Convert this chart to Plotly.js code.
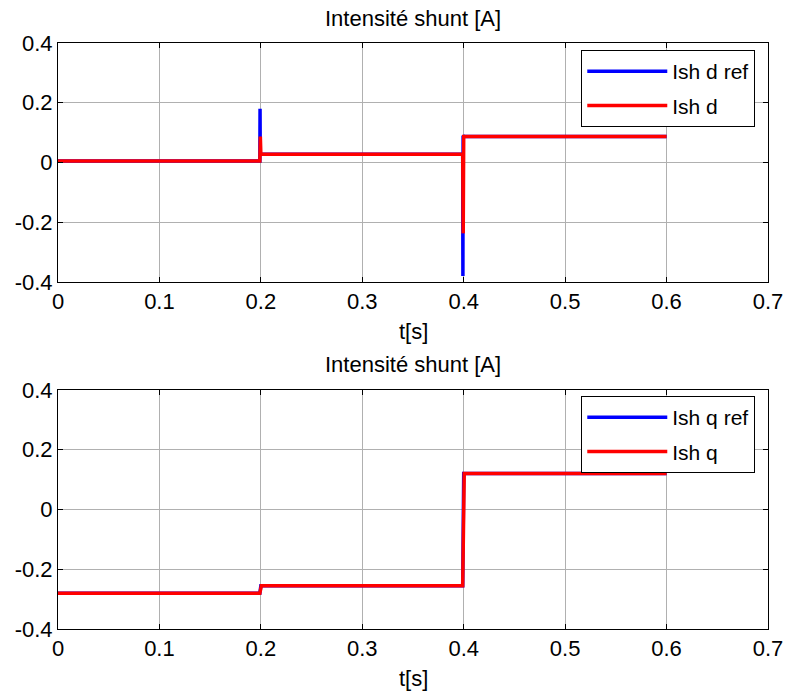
<!DOCTYPE html>
<html>
<head>
<meta charset="utf-8">
<script src="https://cdn.plot.ly/plotly-3.0.1.min.js"></script>
<style>html,body{margin:0;padding:0;background:#fff;}#chart{width:787px;height:695px;}</style>
</head>
<body>
<div id="chart"></div>
<script>
// Top panel: d components
var t_dref = [0, 0.1990, 0.1992, 0.1994, 0.2005, 0.3990, 0.3992, 0.3994, 0.4005, 0.6];
var y_dref = [0.005, 0.005, 0.18, 0.028, 0.028, 0.028, -0.38, 0.09, 0.087, 0.087];
var t_d = [0, 0.1990, 0.1995, 0.2000, 0.2010, 0.3990, 0.3995, 0.4000, 0.4010, 0.6];
var y_d = [0.005, 0.005, 0.087, 0.028, 0.028, 0.028, -0.237, 0.087, 0.087, 0.087];
// Bottom panel: q components
var t_qref = [0, 0.1990, 0.2000, 0.3990, 0.4000, 0.6];
var y_qref = [-0.28, -0.28, -0.255, -0.255, 0.12, 0.12];
var t_q = [0, 0.1990, 0.2005, 0.3990, 0.4005, 0.6];
var y_q = [-0.28, -0.28, -0.255, -0.255, 0.12, 0.12];

var panelTitle = 'Intensité shunt [A]';
var xLabel = 't[s]';
var xTicks = [0, 0.1, 0.2, 0.3, 0.4, 0.5, 0.6, 0.7];
var yTicks = [-0.4, -0.2, 0, 0.2, 0.4];
var yTickText = ['-0.4', '-0.2', '0', '0.2', '0.4'];

var blue = '#0000ff', red = '#ff0000';
var traces = [
  {x: t_dref, y: y_dref, name: 'Ish d ref', legendgroup: 'a', mode: 'lines', line: {color: blue, width: 3.5}, xaxis: 'x', yaxis: 'y', legend: 'legend'},
  {x: t_d, y: y_d, name: 'Ish d', legendgroup: 'b', mode: 'lines', line: {color: red, width: 3.5}, xaxis: 'x', yaxis: 'y', legend: 'legend'},
  {x: t_qref, y: y_qref, name: 'Ish q ref', legendgroup: 'c', mode: 'lines', line: {color: blue, width: 3.5}, xaxis: 'x2', yaxis: 'y2', legend: 'legend2'},
  {x: t_q, y: y_q, name: 'Ish q', legendgroup: 'd', mode: 'lines', line: {color: red, width: 3.5}, xaxis: 'x2', yaxis: 'y2', legend: 'legend2'}
];

var FS = 22;
var fontFam = 'Liberation Sans, Arial, sans-serif';
function xax(anchor) {
  return {range: [0, 0.7], tickvals: xTicks, ticktext: xTicks.map(String), showline: true, mirror: 'ticks',
    linecolor: '#000', linewidth: 1, ticks: 'inside', ticklen: 5, tickcolor: '#000',
    showgrid: true, gridcolor: '#b0b0b0', gridwidth: 1, zeroline: false, anchor: anchor,
    tickfont: {size: FS, color: '#000'}};
}
function yax(domain, anchor) {
  return {range: [-0.4, 0.4], domain: domain, tickvals: yTicks, ticktext: yTickText, showline: true, mirror: 'ticks',
    linecolor: '#000', linewidth: 1, ticks: 'inside', ticklen: 5, tickcolor: '#000',
    showgrid: true, gridcolor: '#b0b0b0', gridwidth: 1, zeroline: false, anchor: anchor,
    tickfont: {size: FS, color: '#000'}};
}
var legendBase = {xanchor: 'left', yanchor: 'top', bgcolor: '#fff', bordercolor: '#000', borderwidth: 1,
  font: {size: 21}, tracegroupgap: 4, itemwidth: 80};
var layout = {
  width: 787, height: 695,
  margin: {l: 58, r: 19, t: 43, b: 66},
  paper_bgcolor: '#fff', plot_bgcolor: '#fff',
  font: {family: fontFam, color: '#000', size: FS},
  showlegend: true,
  xaxis: xax('y'),
  yaxis: yax([0.592, 1], 'x'),
  xaxis2: xax('y2'),
  yaxis2: yax([0, 0.408], 'x2'),
  legend: Object.assign({x: 0.737, y: 0.988}, legendBase),
  legend2: Object.assign({x: 0.737, y: 0.3976}, legendBase),
  annotations: [
    {text: panelTitle, xref: 'paper', yref: 'paper', x: 0.5, y: 1, yshift: 25, xanchor: 'center', yanchor: 'middle', showarrow: false, font: {size: FS}},
    {text: panelTitle, xref: 'paper', yref: 'paper', x: 0.5, y: 0.408, yshift: 25, xanchor: 'center', yanchor: 'middle', showarrow: false, font: {size: FS}},
    {text: xLabel, xref: 'paper', yref: 'paper', x: 0.5, y: 0.592, yshift: -49, xanchor: 'center', yanchor: 'middle', showarrow: false, font: {size: FS}},
    {text: xLabel, xref: 'paper', yref: 'paper', x: 0.5, y: 0, yshift: -49, xanchor: 'center', yanchor: 'middle', showarrow: false, font: {size: FS}}
  ]
};
Plotly.newPlot('chart', traces, layout, {displayModeBar: false, staticPlot: true});
</script>
</body>
</html>
